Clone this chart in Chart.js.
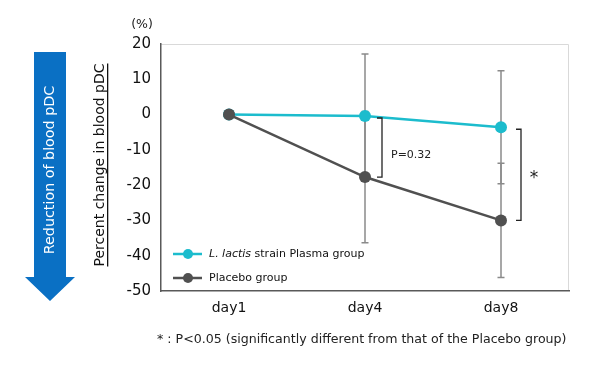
<!DOCTYPE html>
<html>
<head>
<meta charset="utf-8">
<script src="https://cdn.jsdelivr.net/npm/chart.js@4.4.0/dist/chart.umd.min.js"></script>
<style>
  html, body { margin: 0; padding: 0; background: #fff; }
  #wrap { width: 595px; height: 368px; }
</style>
</head>
<body>
<div id="wrap"><canvas id="chart" width="595" height="368"></canvas></div>
<script>
const categories = ['day1', 'day4', 'day8'];
const plasmaMean = [0, -0.4, -3.6];
const placeboMean = [0, -17.7, -30.0];
const plasmaSD = [0, 17.6, 16.0];
const placeboSD = [0, 18.6, 16.2];
const yMin = -50;
const yMax = 20;
const yStep = 10;

const FONT = '"DejaVu Sans", Verdana, sans-serif';
const CYAN = '#1cbccd';
const DARK = '#505050';

// error bars behind the lines
const errorBars = {
    id: 'errorBars',
    beforeDatasetsDraw(chart) {
        const { ctx, scales: { x, y } } = chart;
        const series = [[plasmaMean, plasmaSD], [placeboMean, placeboSD]];
        ctx.save();
        ctx.strokeStyle = '#8a8a8a';
        ctx.lineWidth = 1.5;
        series.forEach(([mean, sd]) => {
            mean.forEach((m, i) => {
                if (!sd[i]) return;
                const px = x.getPixelForValue(i);
                const top = y.getPixelForValue(m + sd[i]);
                const bot = y.getPixelForValue(m - sd[i]);
                ctx.beginPath();
                ctx.moveTo(px, top);
                ctx.lineTo(px, bot);
                ctx.moveTo(px - 3.5, top);
                ctx.lineTo(px + 3.5, top);
                ctx.moveTo(px - 3.5, bot);
                ctx.lineTo(px + 3.5, bot);
                ctx.stroke();
            });
        });
        ctx.restore();
    },
};

const frame = {
    id: 'frame',
    beforeDraw(chart) {
        const { ctx, chartArea: a } = chart;
        ctx.save();
        ctx.strokeStyle = '#d9d9d9';
        ctx.lineWidth = 1;
        ctx.beginPath();
        ctx.moveTo(a.left, a.top + 0.5);
        ctx.lineTo(a.right - 0.5, a.top + 0.5);
        ctx.lineTo(a.right - 0.5, a.bottom);
        ctx.stroke();
        ctx.restore();
    },
};

const extras = {
    id: 'extras',
    afterDraw(chart) {
        const { ctx, scales: { x, y } } = chart;
        ctx.save();

        // significance brackets
        ctx.strokeStyle = '#222';
        ctx.lineWidth = 1.3;
        const bracket = (i, gap) => {
            const bx = x.getPixelForValue(i) + gap;
            const y1 = y.getPixelForValue(plasmaMean[i]) + 2;
            const y2 = y.getPixelForValue(placeboMean[i]);
            ctx.beginPath();
            ctx.moveTo(bx - 5, y1);
            ctx.lineTo(bx, y1);
            ctx.lineTo(bx, y2);
            ctx.lineTo(bx - 5, y2);
            ctx.stroke();
            return { bx, mid: (y1 + y2) / 2 };
        };
        const b4 = bracket(1, 17);
        const b8 = bracket(2, 20);
        ctx.fillStyle = '#222';
        ctx.font = '11px ' + FONT;
        ctx.textAlign = 'left';
        ctx.textBaseline = 'middle';
        ctx.fillText('P=0.32', b4.bx + 9, b4.mid + 8);
        ctx.font = '17px ' + FONT;
        ctx.textAlign = 'center';
        ctx.fillText('*', b8.bx + 13, b8.mid + 4);

        // legend inside plot
        const legend = [
            { color: CYAN, y: 254, parts: [['italic ', 'L. lactis'], ['', ' strain Plasma group']] },
            { color: DARK, y: 278, parts: [['', 'Placebo group']] },
        ];
        legend.forEach((item) => {
            ctx.strokeStyle = item.color;
            ctx.fillStyle = item.color;
            ctx.lineWidth = 2.5;
            ctx.beginPath();
            ctx.moveTo(173, item.y);
            ctx.lineTo(202, item.y);
            ctx.stroke();
            ctx.beginPath();
            ctx.arc(188, item.y, 5, 0, Math.PI * 2);
            ctx.fill();
            ctx.fillStyle = '#111';
            ctx.textAlign = 'left';
            ctx.textBaseline = 'middle';
            let tx = 209;
            item.parts.forEach(([style, text]) => {
                ctx.font = style + '11px ' + FONT;
                ctx.fillText(text, tx, item.y);
                tx += ctx.measureText(text).width;
            });
        });

        // unit label
        ctx.fillStyle = '#222';
        ctx.font = '12.5px ' + FONT;
        ctx.textAlign = 'center';
        ctx.fillText('(%)', 142, 25);

        // y-axis title, underlined
        ctx.save();
        ctx.translate(104, 165);
        ctx.rotate(-Math.PI / 2);
        ctx.font = '14px ' + FONT;
        ctx.textBaseline = 'alphabetic';
        ctx.textAlign = 'center';
        ctx.fillStyle = '#111';
        const title = 'Percent change in blood pDC';
        ctx.fillText(title, 0, 0);
        const w = ctx.measureText(title).width;
        ctx.fillRect(-w / 2, 3, w, 1.3);
        ctx.restore();

        // blue arrow
        ctx.fillStyle = '#0a70c4';
        ctx.beginPath();
        ctx.moveTo(34, 52);
        ctx.lineTo(66, 52);
        ctx.lineTo(66, 277);
        ctx.lineTo(75, 277);
        ctx.lineTo(50, 301);
        ctx.lineTo(25, 277);
        ctx.lineTo(34, 277);
        ctx.closePath();
        ctx.fill();
        ctx.save();
        ctx.translate(50, 170);
        ctx.rotate(-Math.PI / 2);
        ctx.fillStyle = '#fff';
        ctx.font = '14.3px ' + FONT;
        ctx.textAlign = 'center';
        ctx.textBaseline = 'middle';
        ctx.fillText('Reduction of blood pDC', 0, 0);
        ctx.restore();

        // footnote
        ctx.fillStyle = '#222';
        ctx.font = '12.6px ' + FONT;
        ctx.textAlign = 'left';
        ctx.textBaseline = 'middle';
        ctx.fillText('* : P<0.05 (significantly different from that of the Placebo group)', 157, 340);

        ctx.restore();
    },
};

new Chart(document.getElementById('chart'), {
    type: 'line',
    data: {
        labels: categories,
        datasets: [
            {
                label: 'L. lactis strain Plasma group',
                data: plasmaMean,
                borderColor: CYAN,
                backgroundColor: CYAN,
                borderWidth: 2.5,
                pointRadius: 6,
                pointBorderWidth: 0,
                tension: 0,
                order: 1,
            },
            {
                label: 'Placebo group',
                data: placeboMean,
                borderColor: DARK,
                backgroundColor: DARK,
                borderWidth: 2.5,
                pointRadius: 6,
                pointBorderWidth: 0,
                tension: 0,
                order: 0,
            },
        ],
    },
    options: {
        responsive: false,
        animation: false,
        layout: { padding: { left: 0, right: 26, top: 44, bottom: 0 } },
        plugins: {
            legend: { display: false },
            tooltip: { enabled: false },
        },
        scales: {
            x: {
                offset: true,
                grid: { display: false, drawTicks: false },
                border: { display: true, color: '#595959', width: 1.5 },
                ticks: { color: '#111', padding: 9, font: { family: FONT, size: 14 } },
                afterFit(scale) { scale.height = 77; },
            },
            y: {
                min: yMin,
                max: yMax,
                grid: { display: false, drawTicks: false },
                border: { display: true, color: '#595959', width: 1.5 },
                ticks: { stepSize: yStep, color: '#111', padding: 10, font: { family: FONT, size: 15 } },
                afterFit(scale) { scale.width = 161; },
            },
        },
    },
    plugins: [errorBars, frame, extras],
});
</script>
</body>
</html>
